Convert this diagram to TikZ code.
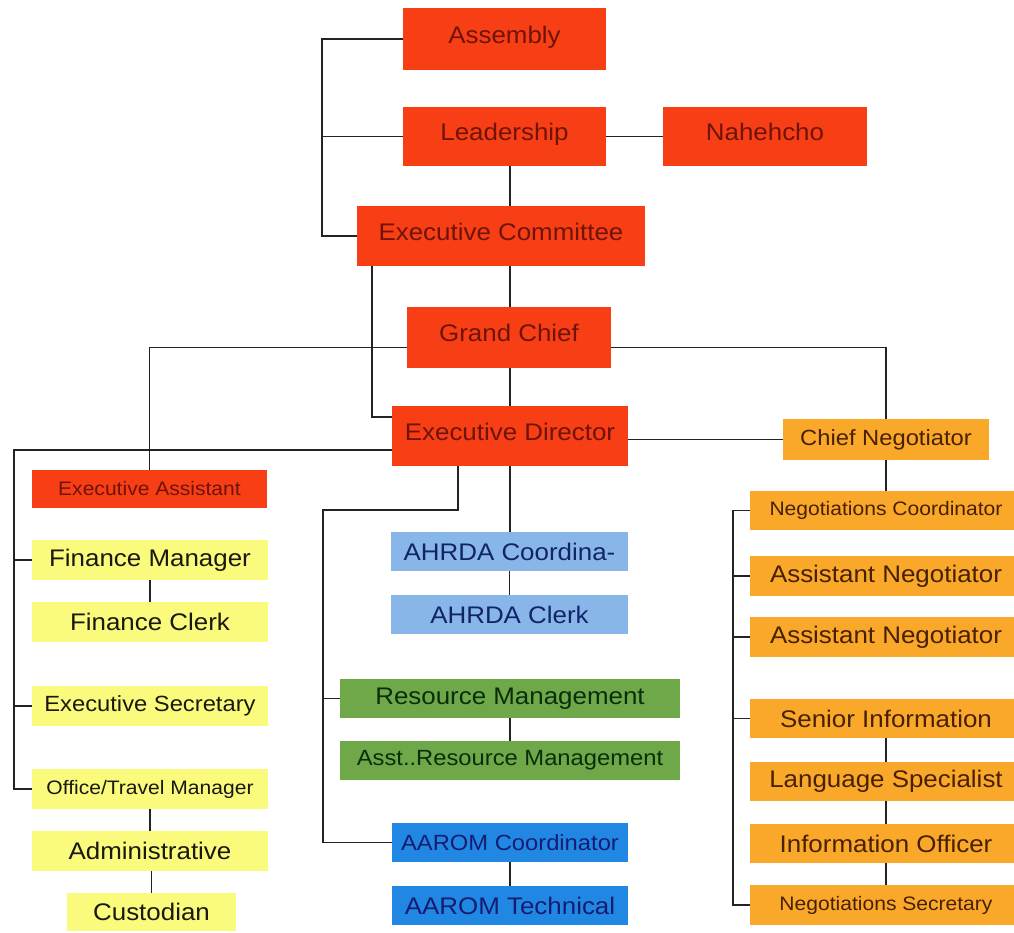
\documentclass[tikz,border=0pt]{standalone}
\usepackage{fontspec}
\setmainfont{Liberation Sans}[FakeStretch=1.08]
\definecolor{cred}{RGB}{247,62,21}
\definecolor{credt}{RGB}{110,20,10}
\definecolor{corg}{RGB}{249,168,42}
\definecolor{corgt}{RGB}{72,32,4}
\definecolor{cyel}{RGB}{250,250,125}
\definecolor{cyelt}{RGB}{25,25,15}
\definecolor{clbl}{RGB}{137,182,232}
\definecolor{clblt}{RGB}{18,36,105}
\definecolor{cgrn}{RGB}{110,168,72}
\definecolor{cgrnt}{RGB}{10,46,10}
\definecolor{cblu}{RGB}{32,136,226}
\definecolor{cblut}{RGB}{22,28,115}
\definecolor{cline}{RGB}{35,35,35}
\tikzset{
  box/.style={rectangle, inner sep=0pt, anchor=center},
  fL/.style={font=\fontsize{24}{28}\selectfont},
  fM/.style={font=\fontsize{22}{26}\selectfont},
  fS/.style={font=\fontsize{19.5}{23}\selectfont},
  redbox/.style={box, fill=cred, text=credt, fL},
  topbox/.style={redbox, text height=17pt, text depth=9pt},
  orgbase/.style={box, fill=corg, text=corgt, fL, minimum width=264pt, minimum height=39pt},
  orgbox/.style={orgbase, execute at begin node={\hspace*{8pt}}},
  yelbox/.style={box, fill=cyel, text=cyelt, fL, minimum width=236pt, minimum height=40pt},
  lblbox/.style={box, fill=clbl, text=clblt, fL, minimum width=237pt, minimum height=39pt},
  grnbox/.style={box, fill=cgrn, text=cgrnt, fL, minimum width=340pt, minimum height=39pt},
  blubox/.style={box, fill=cblu, text=cblut, fL, minimum width=236pt, minimum height=39pt},
  conn/.style={draw=cline, line width=1.8pt}
}
\begin{document}
\begin{tikzpicture}[x=1pt,y=-1pt]
\useasboundingbox (0,0) rectangle (1014,932);
\fill[white] (0,0) rectangle (1014,932);
% top red boxes
\node[topbox, minimum width=203pt, minimum height=62pt] (asm) at (504.5,39) {Assembly};
\node[topbox, minimum width=203pt, minimum height=59pt] (lead) at (504.5,136.5) {Leadership};
\node[topbox, minimum width=204pt, minimum height=59pt] (nah) at (765,136.5) {Nahehcho};
\node[topbox, minimum width=288pt, minimum height=60pt] (exc) at (501,236) {Executive Committee};
\node[topbox, minimum width=204pt, minimum height=61pt] (gc) at (509,337.5) {Grand Chief};
\node[topbox, minimum width=236pt, minimum height=60pt] (ed) at (510,436) {Executive Director};
\node[redbox, fS, minimum width=235pt, minimum height=38pt] (ea) at (149.5,489) {Executive Assistant};
% chief negotiator
\node[orgbase, fM, minimum width=206pt, minimum height=41pt] (cn) at (886,439.5) {Chief Negotiator};
% left yellow column
\node[yelbox] (fm) at (150,560) {Finance Manager};
\node[yelbox] (fc) at (150,622) {Finance Clerk};
\node[yelbox, fM] (es) at (150,706) {Executive Secretary};
\node[yelbox, fS] (otm) at (150,789) {Office/Travel Manager};
\node[yelbox] (adm) at (150,851) {Administrative};
\node[yelbox, minimum width=169pt, minimum height=38pt] (cus) at (151.5,912) {Custodian};
% middle column
\node[lblbox] (ahc) at (509.5,551.5) {AHRDA Coordina-};
\node[lblbox] (ahk) at (509.5,614.5) {AHRDA Clerk};
\node[grnbox] (rm) at (510,698.5) {Resource Management};
\node[grnbox, fM] (arm) at (510,760.5) {Asst..Resource Management};
\node[blubox, fM] (aac) at (510,842.5) {AAROM Coordinator};
\node[blubox] (aat) at (510,905.5) {AAROM Technical};
% right orange column
\node[orgbox, fS] (nc) at (882,510.5) {Negotiations Coordinator};
\node[orgbox, minimum height=40pt] (an1) at (882,576) {Assistant Negotiator};
\node[orgbox, minimum height=40pt] (an2) at (882,637) {Assistant Negotiator};
\node[orgbox] (si) at (882,718.5) {Senior Information};
\node[orgbox] (ls) at (882,781.5) {Language Specialist};
\node[orgbox] (io) at (882,843.5) {Information Officer};
\node[orgbox, fS, minimum height=40pt] (ns) at (882,905) {Negotiations Secretary};
% helper coordinates
\coordinate (lbx) at (322,0);
\coordinate (ebend) at (323,510);
\coordinate (rbx) at (733,0);
\coordinate (llx) at (14,0);
% connectors: top
\draw[conn] (asm.west) -- (asm.west -| lbx) |- (exc.west);
\draw[conn] (lead.west) -- (lead.west -| lbx);
\draw[conn] (lead.east) -- (nah.west);
\draw[conn] (lead.south -| ed.north) -- (exc.north -| ed.north);
\draw[conn] (exc.south -| ed.north) -- (gc.north -| ed.north);
\draw[conn] (gc.south -| ed.north) -- (ed.north);
\draw[conn] ([xshift=15pt]exc.south west) |- ([yshift=-11pt]ed.north west);
\draw[conn] ([yshift=-10pt]gc.west) -| (ea.north);
\draw[conn] ([yshift=-10pt]gc.east) -| (cn.north);
\draw[conn] (ed.east |- cn.west) -- (cn.west);
% left column
\draw[conn] ([yshift=-14pt]ed.west) -| (otm.west -| llx) -- (otm.west);
\draw[conn] (fm.west) -- (fm.west -| llx);
\draw[conn] (es.west) -- (es.west -| llx);
\draw[conn] (fm.south) -- (fc.north);
\draw[conn] (otm.south) -- (adm.north);
\draw[conn] (adm.south -| cus.north) -- (cus.north);
% middle column
\draw[conn] ([xshift=-52pt]ed.south) |- (ebend) |- (aac.west);
\draw[conn] (rm.west) -- (rm.west -| ebend);
\draw[conn] (ed.south) -- (ed.south |- ahc.north);
\draw[conn] (ahc.south) -- (ahk.north);
\draw[conn] (rm.south) -- (arm.north);
\draw[conn] (aac.south) -- (aat.north);
% right column
\draw[conn] (cn.south) -- (cn.south |- nc.north);
\draw[conn] (nc.west) -- (nc.west -| rbx) |- (ns.west);
\draw[conn] (an1.west) -- (an1.west -| rbx);
\draw[conn] (an2.west) -- (an2.west -| rbx);
\draw[conn] (si.west) -- (si.west -| rbx);
\draw[conn] (si.south -| cn.south) -- (ls.north -| cn.south);
\draw[conn] (ls.south -| cn.south) -- (io.north -| cn.south);
\draw[conn] (io.south -| cn.south) -- (ns.north -| cn.south);
\end{tikzpicture}
\end{document}
